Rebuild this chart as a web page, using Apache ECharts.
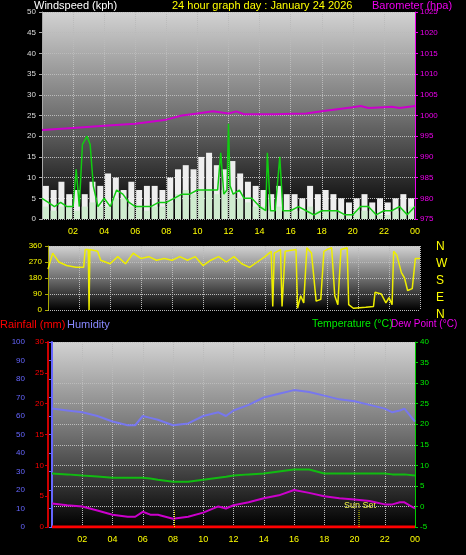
<!DOCTYPE html>
<html><head><meta charset="utf-8">
<script src="https://cdn.jsdelivr.net/npm/echarts@6/dist/echarts.min.js"></script>
<style>html,body{margin:0;background:#000}#c{width:466px;height:555px}</style>
</head><body><div id="c"></div>
<script>
// wind: half-hour samples, hour 0..24
const windHours = [0,0.5,1,1.5,2,2.5,3,3.5,4,4.5,5,5.5,6,6.5,7,7.5,8,8.5,9,9.5,10,10.5,11,11.5,12,12.5,13,13.5,14,14.5,15,15.5,16,16.5,17,17.5,18,18.5,19,19.5,20,20.5,21,21.5,22,22.5,23,23.5];
const gust = [8,7,9,6,7,6,9,8,11,10,7,9,7,8,8,7,10,12,13,12,15,16,13,12,14,11,9,8,7,6,8,6,6,5,8,6,7,6,5,4,5,6,4,5,4,5,6,5];
const speed = [3,2,3,3,2,3,4,3,3,5,5,3,3,2,3,3,4,6,7,6,7,7,6,7,6,5,4,3,3,2,3,2,2,2,3,2,2,2,1,1,2,2,2,1,1,2,2,3];
const avgHours = [0,0.4,0.8,1.2,1.6,2.0,2.2,2.4,2.6,2.9,3.1,3.3,3.6,4,4.4,4.8,5.2,5.6,6,6.5,7,7.5,8,8.5,9,9.5,10,10.5,11,11.3,11.5,11.7,11.9,12.0,12.1,12.3,12.7,13,13.5,14,14.4,14.5,14.6,14.7,15,15.3,15.4,15.5,15.6,16,16.5,17,17.5,18,18.5,19,19.5,20,20.5,21,21.5,22,22.5,23,23.5,24];
const avgWind = [5,4,3,4,3,3,12,3,18,20,18,8,3,5,3,7,6,4,3,3,3,4,4,5,6,6,7,7,7,7,16,6,7,23,8,6,7,5,5,3,2,16,16,2,2,15,15,2,2,2,3,2,1,2,2,2,1,1,3,3,1,2,2,3,1,3];
const baroHours = [0,2,4,6,8,9,10,11,12,12.5,13,14,15,16,17,18,19,20,20.5,21,22,22.5,23,24];
const baro = [996.5,997,997.5,998,999,1000,1000.5,1001,1000.5,1001,1000.3,1000.3,1000.3,1000.4,1000.5,1001,1001.5,1002,1002.3,1001.8,1002,1002.1,1001.8,1002.3];
const dirHours = [0,0.3,0.7,1.2,1.8,2.3,2.4,2.6,2.65,2.7,3.2,3.4,4,4.5,5,5.5,6,6.5,7,7.5,8,8.5,9,9.5,10,10.5,11,11.5,12,12.5,13,13.5,14,14.4,14.5,14.6,15,15.1,15.3,16,16.1,16.3,16.5,16.7,17,17.3,17.6,17.8,18,18.3,18.5,18.7,18.9,19.3,19.4,19.7,20.5,21,21.1,21.5,21.8,22,22.2,22.3,22.5,22.8,23,23.2,23.5,23.7,24];
const windDir = [230,320,270,250,240,240,340,340,0,340,330,280,260,300,260,320,290,300,280,290,280,300,280,300,250,280,300,270,300,260,240,270,300,330,20,320,340,20,330,340,10,80,40,350,320,50,60,330,340,350,80,30,340,350,30,10,15,20,100,90,40,70,30,330,310,210,180,110,120,290,290];
const thHours = [0,1,2,3,4,5,5.5,6,6.5,7,8,9,10,11,11.5,12,13,14,15,16,17,18,19,20,21,22,22.5,23,23.3,24];
const humidity = [64,63,62,60,57,55,55,60,59,58,55,56,60,62,60,63,66,70,72,74,73,71,69,68,66,64,62,63,64,57];
const temperature = [8,7.8,7.5,7.3,7,7,7,7,6.8,6.5,6,6,6.5,7,7.2,7.5,7.8,8,8.5,9,9,8,8,8,8,8,7.8,7.8,7.8,7.5];
const dewPoint = [0.7,0.3,0,-1,-2,-2.5,-2.5,-1.3,-2,-2,-3,-2.5,-1.5,0,-0.5,0.3,1,2,2.7,4,3.3,2.5,2,1.7,1.3,0.5,0.5,1,1,-0.5];
const rainHours = [0,24];
const rain = [0,0];
const sunRise = 8.1, sunSet = 20.3;
const hourLabels = ['','02','04','06','08','10','12','14','16','18','20','22','00'];

const pairs = (xs, ys) => xs.map((x, i) => [x, ys[i]]);
const bg = new echarts.graphic.LinearGradient(0, 0, 0, 1, [
  { offset: 0, color: '#d2d2d2' }, { offset: 0.5, color: '#707070' }, { offset: 1, color: '#000' }]);
const font = 'Liberation Sans';
const plain = v => String(v);
const gridLine = { show: true, lineStyle: { color: '#bbb', type: 'dotted', width: 1 } };
const xAxis = (gi, showLabel) => ({
  type: 'value', gridIndex: gi, min: 0, max: 24, interval: 2,
  axisLine: { show: false }, axisTick: { show: false }, splitLine: gridLine,
  axisLabel: { show: showLabel, color: '#ff0', fontSize: 9, fontFamily: font,
    formatter: v => hourLabels[v / 2] } });

const chart = echarts.init(document.getElementById('c'));
chart.setOption({
  backgroundColor: '#000',
  animation: false,
  textStyle: { fontFamily: font },
  grid: [
    { left: 42, top: 12, width: 373, height: 207, show: true, backgroundColor: bg, borderWidth: 0 },
    { left: 48, top: 246, width: 372, height: 64, show: true, backgroundColor: bg, borderWidth: 0 },
    { left: 52, top: 342, width: 363, height: 185, show: true, backgroundColor: bg, borderWidth: 0 }
  ],
  graphic: [
    { type: 'text', left: 34, top: 0, style: { text: 'Windspeed (kph)', fill: '#fff', font: '11px ' + font } },
    { type: 'text', left: 172, top: 0, style: { text: '24 hour graph day : January 24 2026', fill: '#ff0', font: '11px ' + font } },
    { type: 'text', left: 372, top: 0, style: { text: 'Barometer (hpa)', fill: '#e0e', font: '11px ' + font } },
    { type: 'text', left: 436, top: 238, style: { text: 'N\nW\nS\nE\nN', fill: '#ff0', font: '12px ' + font, lineHeight: 17 } },
    { type: 'text', left: 0, top: 319, style: { text: 'Rainfall (mm)', fill: '#f00', font: '11px ' + font } },
    { type: 'text', left: 67, top: 319, style: { text: 'Humidity', fill: '#88f', font: '11px ' + font } },
    { type: 'text', left: 312, top: 319, style: { text: 'Temperature (°C)', fill: '#0e0', font: '10.5px ' + font } },
    { type: 'text', left: 391, top: 319, style: { text: 'Dew Point (°C)', fill: '#e0e', font: '10px ' + font } },
    { type: 'text', left: 344, top: 501, style: { text: 'Sun Set', fill: '#ee4', font: '9px ' + font } }
  ],
  xAxis: [xAxis(0, true), xAxis(1, false), xAxis(2, true)],
  yAxis: [
    { type: 'value', gridIndex: 0, position: 'left', min: 0, max: 50, interval: 5, splitLine: gridLine,
      axisLine: { show: true, lineStyle: { color: '#aaa' } }, axisTick: { show: true, length: 3 },
      axisLabel: { color: '#ddd', fontSize: 8, margin: 6 } },
    { type: 'value', gridIndex: 0, position: 'right', min: 975, max: 1025, interval: 5, splitLine: { show: false },
      axisLine: { show: true, lineStyle: { color: '#e0e' } }, axisTick: { show: true, length: 3 },
      axisLabel: { color: '#e0e', fontSize: 8, margin: 5, formatter: plain } },
    { type: 'value', gridIndex: 1, position: 'left', min: 0, max: 360, interval: 90, splitLine: gridLine,
      axisLine: { show: true, lineStyle: { color: '#aa0' } }, axisTick: { show: true, length: 3 },
      axisLabel: { color: '#ff0', fontSize: 8, margin: 6 } },
    { type: 'value', gridIndex: 2, position: 'left', min: 0, max: 100, interval: 10, offset: 22, splitLine: { show: false },
      axisLine: { show: true, lineStyle: { color: '#66f', width: 2 } }, axisTick: { show: true, length: 3 },
      axisLabel: { color: '#66f', fontSize: 8, margin: 5 } },
    { type: 'value', gridIndex: 2, position: 'left', min: 0, max: 30, interval: 5, offset: 4, splitLine: { show: false },
      axisLine: { show: true, lineStyle: { color: '#c00', width: 2 } }, axisTick: { show: true, length: 3 },
      axisLabel: { color: '#f00', fontSize: 8, margin: 4 } },
    { type: 'value', gridIndex: 2, position: 'right', min: -5, max: 40, interval: 5, splitLine: gridLine,
      axisLine: { show: true, lineStyle: { color: '#0c0' } }, axisTick: { show: true, length: 3 },
      axisLabel: { color: '#0e0', fontSize: 8, margin: 5, formatter: plain } }
  ],
  series: [
    { type: 'bar', xAxisIndex: 0, yAxisIndex: 0, data: pairs(windHours.map(h => h + 0.25), gust),
      barWidth: 6, itemStyle: { color: '#eee' } },
    { type: 'bar', xAxisIndex: 0, yAxisIndex: 0, data: pairs(windHours.map(h => h + 0.25), speed),
      barWidth: 6, barGap: '-100%', itemStyle: { color: '#cfeccf' } },
    { type: 'line', xAxisIndex: 0, yAxisIndex: 0, data: pairs(avgHours, avgWind), symbol: 'none',
      lineStyle: { color: '#1c1', width: 1.5 } },
    { type: 'line', xAxisIndex: 0, yAxisIndex: 1, data: pairs(baroHours, baro), symbol: 'none',
      lineStyle: { color: '#c0c', width: 2 } },
    { type: 'line', xAxisIndex: 1, yAxisIndex: 2, data: pairs(dirHours, windDir), symbol: 'none',
      lineStyle: { color: '#ee0', width: 1.5 } },
    { type: 'line', xAxisIndex: 2, yAxisIndex: 3, data: pairs(thHours, humidity), symbol: 'none',
      lineStyle: { color: '#77e', width: 2 } },
    { type: 'line', xAxisIndex: 2, yAxisIndex: 5, data: pairs(thHours, temperature), symbol: 'none',
      lineStyle: { color: '#1b1', width: 2 } },
    { type: 'line', xAxisIndex: 2, yAxisIndex: 5, data: pairs(thHours, dewPoint), symbol: 'none',
      lineStyle: { color: '#c0c', width: 2 } },
    { type: 'line', xAxisIndex: 2, yAxisIndex: 4, data: pairs(rainHours, rain), symbol: 'none',
      lineStyle: { color: '#f00', width: 3 } },
    { type: 'line', xAxisIndex: 2, yAxisIndex: 3, data: [[sunRise, 0], [sunRise, 9]], symbol: 'none',
      lineStyle: { color: '#ee0', width: 1, type: 'dotted' } },
    { type: 'line', xAxisIndex: 2, yAxisIndex: 3, data: [[sunSet, 0], [sunSet, 9]], symbol: 'none',
      lineStyle: { color: '#ee0', width: 1, type: 'dotted' } }
  ]
});
</script></body></html>
